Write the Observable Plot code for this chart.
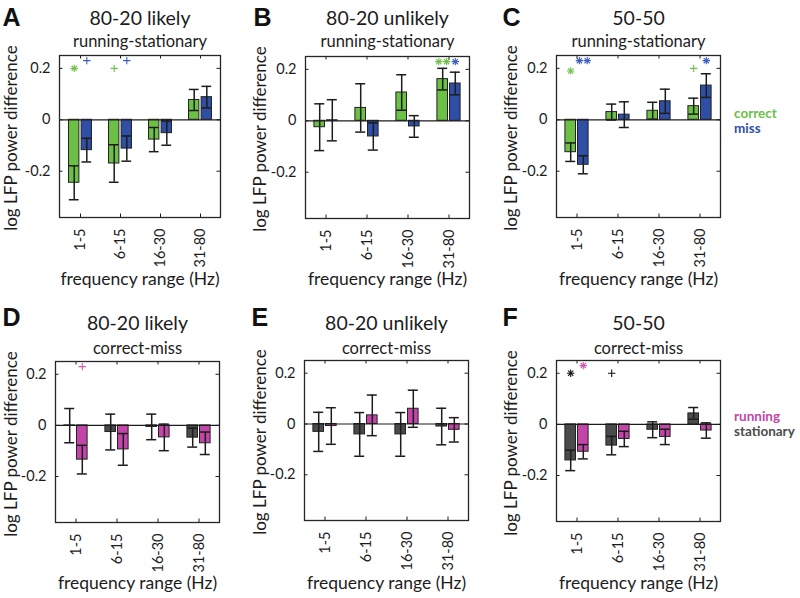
<!DOCTYPE html>
<html>
<head>
<meta charset="utf-8">
<script src="https://cdn.jsdelivr.net/npm/d3@7"></script>
<script src="https://cdn.jsdelivr.net/npm/@observablehq/plot@0.6"></script>
<style>
  html, body { margin: 0; padding: 0; background: #fff; }
  #root { position: relative; width: 800px; height: 598px; overflow: hidden; background: #fff; font-family: Lato, sans-serif; }
  .panel { position: absolute; }
  .leg { position: absolute; font-family: Lato, sans-serif; font-weight: bold; font-size: 13.5px; line-height: 14px; white-space: nowrap; }
  .ylab { position: absolute; font-family: Lato, sans-serif; font-size: 17px; line-height: 17px; color: #1c1c1c;
          white-space: nowrap; transform: translate(-50%, -50%) rotate(-90deg); }
</style>
</head>
<body>
<div id="root"></div>
<script>
// ---------- data ----------
const categories = ["1-5", "6-15", "16-30", "31-80"];
const yTicks = [-0.2, 0, 0.2];
const yDomain = [-0.38, 0.25];

// Top row: series 0 = correct (green), series 1 = miss (blue)
const A_correct    = [-0.245, -0.170, -0.077, 0.077];
const A_correctErr = [ 0.066,  0.073,  0.047, 0.041];
const A_miss       = [-0.118, -0.112, -0.052, 0.088];
const A_missErr    = [ 0.046,  0.049,  0.047, 0.042];
const A_sig = [
  {cat: "1-5",  s: 0, sym: "*", y: 0.20},
  {cat: "1-5",  s: 1, sym: "+", y: 0.23},
  {cat: "6-15", s: 0, sym: "+", y: 0.20},
  {cat: "6-15", s: 1, sym: "+", y: 0.23}
];

const B_correct    = [-0.025, 0.050, 0.110, 0.162];
const B_correctErr = [ 0.091, 0.094, 0.069, 0.042];
const B_miss       = [ 0.002, -0.061, -0.022, 0.145];
const B_missErr    = [ 0.080, 0.053, 0.042, 0.044];
const B_sig = [
  {cat: "31-80", s: 0, sym: "**", y: 0.23},
  {cat: "31-80", s: 1, sym: "*",  y: 0.23}
];

const C_correct    = [-0.126, 0.030, 0.035, 0.053];
const C_correctErr = [ 0.036, 0.031, 0.033, 0.031];
const C_miss       = [-0.175, 0.020, 0.072, 0.133];
const C_missErr    = [ 0.035, 0.050, 0.047, 0.046];
const C_sig = [
  {cat: "1-5",   s: 0, sym: "*",  y: 0.19},
  {cat: "1-5",   s: 1, sym: "**", y: 0.23},
  {cat: "31-80", s: 0, sym: "+",  y: 0.20},
  {cat: "31-80", s: 1, sym: "*",  y: 0.23}
];

// Bottom row: series 0 = stationary (gray), series 1 = running (magenta)
const D_stationary    = [-0.001, -0.026, -0.006, -0.048];
const D_stationaryErr = [ 0.067,  0.070,  0.050,  0.037];
const D_running       = [-0.134, -0.094, -0.047, -0.070];
const D_runningErr    = [ 0.056,  0.062,  0.052,  0.044];
const D_sig = [
  {cat: "1-5", s: 1, sym: "+", y: 0.23}
];

const E_stationary    = [-0.031, -0.041, -0.041, -0.010];
const E_stationaryErr = [ 0.077,  0.086,  0.086,  0.072];
const E_running       = [-0.008,  0.034,  0.060, -0.023];
const E_runningErr    = [ 0.072,  0.080,  0.073,  0.048];
const E_sig = [];

const F_stationary    = [-0.141, -0.083, -0.021, 0.043];
const F_stationaryErr = [ 0.040,  0.036,  0.031, 0.023];
const F_running       = [-0.107, -0.057, -0.049, -0.024];
const F_runningErr    = [ 0.028,  0.030,  0.030, 0.030];
const F_sig = [
  {cat: "1-5",  s: 0, sym: "*", y: 0.20},
  {cat: "1-5",  s: 1, sym: "*", y: 0.23},
  {cat: "6-15", s: 0, sym: "+", y: 0.20}
];

const topTitles = ["80-20 likely", "80-20 unlikely", "50-50"];
const bottomTitles = ["80-20 likely", "80-20 unlikely", "50-50"];
const topSubtitle = "running-stationary";
const bottomSubtitle = "correct-miss";
const panelLetters = ["A", "B", "C", "D", "E", "F"];
const yLabel = "log LFP power difference";
const xLabel = "frequency range (Hz)";
const topLegend = ["correct", "miss"];
const bottomLegend = ["running", "stationary"];

// ---------- styling ----------
const GREEN = "#6cc046", BLUE = "#2f4ea6", MAGENTA = "#c445a8", GRAY = "#4b4b4b";
const INK = "#1c1c1c";

function rows(vals0, err0, vals1, err1) {
  return [
    categories.map((c, i) => ({cat: c, m: vals0[i], e: err0[i]})),
    categories.map((c, i) => ({cat: c, m: vals1[i], e: err1[i]}))
  ];
}

function expandSig(list) {
  const out = [];
  for (const d of list) {
    if (d.sym.length === 2) {
      out.push({...d, kind: d.sym[0], off: -1});
      out.push({...d, kind: d.sym[0], off: 1});
    } else out.push({...d, kind: d.sym, off: 0});
  }
  return out;
}

const root = document.getElementById("root");

function panel(cfg) {
  const {box, rowTop, rowH, letter, letterX, letterBase, title, titleBase, sub, subBase, xlabBase, ylabX,
         series, colors, sigColors, sig} = cfg;
  const padL = 66, padR = 24;
  const svgLeft = box[0] - padL;
  const W = (box[2] - box[0]) + padL + padR;
  const mt = box[1] - rowTop, mb = rowTop + rowH - box[3];
  const plotW = box[2] - box[0], plotH = box[3] - box[1];
  const bw = plotW / categories.length;
  const half = 5.3, off = 6.3, capHalf = 5;
  const marks = [];
  // bars
  series.forEach((data, s) => {
    const c = s === 0 ? -off : off;
    marks.push(Plot.barY(data, {
      x: "cat", y1: 0, y2: "m", fill: colors[s], stroke: "#222", strokeWidth: 1,
      insetLeft: bw / 2 + c - half, insetRight: bw / 2 - c - half
    }));
  });
  marks.push(Plot.ruleY([0], {stroke: INK, strokeWidth: 1.2}));
  // error bars with caps
  series.forEach((data, s) => {
    const c = s === 0 ? -off : off;
    marks.push(Plot.ruleX(data, {x: "cat", y1: d => d.m - d.e, y2: d => d.m + d.e, dx: c, stroke: INK, strokeWidth: 1.5}));
    for (const acc of [d => d.m - d.e, d => d.m + d.e]) {
      marks.push(Plot.tickY(data, {x: "cat", y: acc, stroke: INK, strokeWidth: 1.5,
        insetLeft: bw / 2 + c - capHalf, insetRight: bw / 2 - c - capHalf}));
    }
  });
  // significance markers
  const sx = expandSig(sig);
  for (const s of [0, 1]) for (const o of [-1, 0, 1]) {
    const pts = sx.filter(d => d.s === s && d.off === o);
    if (!pts.length) continue;
    const dx = (s === 0 ? -off : off) + o * 3.9;
    const stars = pts.filter(d => d.kind === "*"), plus = pts.filter(d => d.kind === "+");
    const st = {x: "cat", y: "y", dx, stroke: sigColors[s], strokeWidth: 1.1};
    if (stars.length) {
      marks.push(Plot.dot(stars, {...st, symbol: "plus", r: 2.5}));
      marks.push(Plot.dot(stars, {...st, symbol: "times", r: 2.5}));
    }
    if (plus.length) marks.push(Plot.dot(plus, {...st, symbol: "plus", r: 2.5}));
  }
  // inner ticks (MATLAB style)
  marks.push(Plot.tickY(yTicks, {y: d => d, insetRight: plotW - 3.5, stroke: INK}));
  marks.push(Plot.tickY(yTicks, {y: d => d, insetLeft: plotW - 3.5, stroke: INK}));
  marks.push(Plot.tickX(categories, {x: d => d, insetTop: plotH - 3.5, stroke: INK}));
  marks.push(Plot.tickX(categories, {x: d => d, insetBottom: plotH - 3.5, stroke: INK}));
  marks.push(Plot.frame({stroke: "#262626", strokeWidth: 1.3}));
  // texts
  marks.push(Plot.text([title], {text: d => d, frameAnchor: "top", lineAnchor: "bottom",
    dy: titleBase - box[1], fontSize: 19.5, fill: INK}));
  marks.push(Plot.text([sub], {text: d => d, frameAnchor: "top", lineAnchor: "bottom",
    dy: subBase - box[1], fontSize: 16.5, fill: INK}));
  marks.push(Plot.text([letter], {text: d => d, frameAnchor: "top-left", textAnchor: "start", lineAnchor: "bottom",
    dx: letterX - box[0], dy: letterBase - box[1], fontSize: 25, fontWeight: "bold",
    fontFamily: "Liberation Sans, Arial, sans-serif", fill: "#111"}));
  marks.push(Plot.text([xLabel], {text: d => d, frameAnchor: "bottom", lineAnchor: "bottom",
    dy: xlabBase - box[3], fontSize: 17.5, fill: INK}));

  const svg = Plot.plot({
    width: W, height: rowH,
    marginLeft: padL, marginRight: padR, marginTop: mt, marginBottom: mb,
    style: {fontFamily: "Lato, sans-serif", fontSize: "14.5px", color: INK, background: "none", overflow: "visible"},
    x: {type: "band", domain: categories, padding: 0, tickSize: 0, tickRotate: -90, tickPadding: 11, label: null},
    y: {domain: yDomain, ticks: yTicks, tickSize: 0, tickPadding: 9, tickFormat: d => String(d), label: null},
    marks
  });
  svg.classList.add("panel");
  svg.style.left = svgLeft + "px";
  svg.style.top = rowTop + "px";
  root.appendChild(svg);

  // rotated y-axis title
  const yl = document.createElement("div");
  yl.className = "ylab";
  yl.textContent = yLabel;
  yl.style.left = ylabX + "px";
  yl.style.top = ((box[1] + box[3]) / 2 + 2) + "px";
  root.appendChild(yl);
}

const topCommon = {rowTop: 0, rowH: 300, titleBase: 24, subBase: 46, xlabBase: 284, letterBase: 25,
  colors: [GREEN, BLUE], sigColors: [GREEN, "#3a5bc0"]};
const botCommon = {rowTop: 300, rowH: 298, titleBase: 329, subBase: 353, xlabBase: 588, letterBase: 325,
  colors: [GRAY, MAGENTA], sigColors: ["#111", "#d256b6"]};

panel({...topCommon, box: [59, 55, 220, 217], letter: panelLetters[0], letterX: 2, ylabX: 10,
  title: topTitles[0], sub: topSubtitle, sig: A_sig, series: rows(A_correct, A_correctErr, A_miss, A_missErr)});
panel({...topCommon, box: [305, 56, 469, 218], letter: panelLetters[1], letterX: 253, ylabX: 259,
  title: topTitles[1], sub: topSubtitle, sig: B_sig, series: rows(B_correct, B_correctErr, B_miss, B_missErr)});
panel({...topCommon, box: [556, 55, 720, 217], letter: panelLetters[2], letterX: 502, ylabX: 510,
  title: topTitles[2], sub: topSubtitle, sig: C_sig, series: rows(C_correct, C_correctErr, C_miss, C_missErr)});
panel({...botCommon, box: [55, 361, 219, 522], letter: panelLetters[3], letterX: 2, ylabX: 10,
  title: bottomTitles[0], sub: bottomSubtitle, sig: D_sig, series: rows(D_stationary, D_stationaryErr, D_running, D_runningErr)});
panel({...botCommon, box: [304, 360, 468, 520], letter: panelLetters[4], letterX: 251, ylabX: 259,
  title: bottomTitles[1], sub: bottomSubtitle, sig: E_sig, series: rows(E_stationary, E_stationaryErr, E_running, E_runningErr)});
panel({...botCommon, box: [556, 360, 720, 521], letter: panelLetters[5], letterX: 502, ylabX: 510,
  title: bottomTitles[2], sub: bottomSubtitle, sig: F_sig, series: rows(F_stationary, F_stationaryErr, F_running, F_runningErr)});

// legends
function legend(labels, colors, left, top) {
  labels.forEach((t, i) => {
    const d = document.createElement("div");
    d.className = "leg";
    d.textContent = t;
    d.style.color = colors[i];
    d.style.left = left + "px";
    d.style.top = (top + i * 14.5) + "px";
    root.appendChild(d);
  });
}
legend(topLegend, [GREEN, BLUE], 734, 106);
legend(bottomLegend, [MAGENTA, GRAY], 734, 409);
</script>
</body>
</html>
